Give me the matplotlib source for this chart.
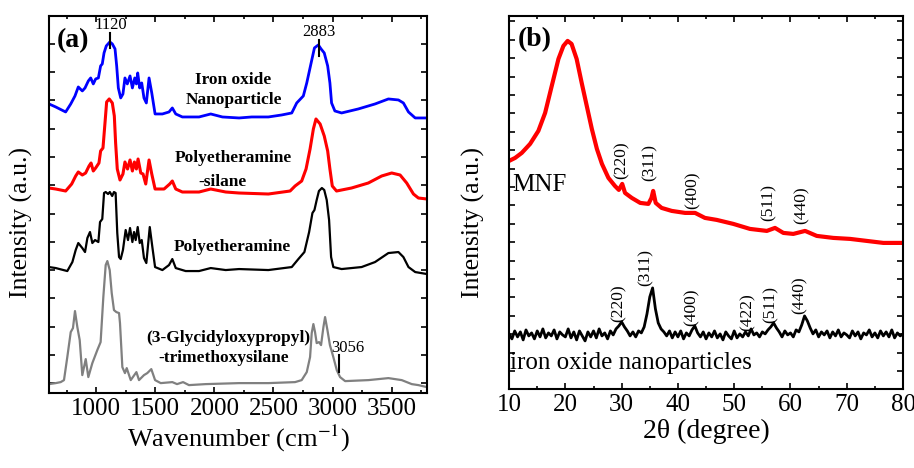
import numpy as np
import matplotlib
matplotlib.use('Agg')
import matplotlib.pyplot as plt
from matplotlib.ticker import MultipleLocator

plt.rcParams['font.family'] = ['Liberation Serif', 'DejaVu Serif']
plt.rcParams['mathtext.fontset'] = 'stix'

# ---- (a) FTIR, wavenumber (cm-1) vs intensity (a.u., stacked) ----
wn_iron = [600, 657, 741, 784, 820, 848, 882, 905, 933, 953, 975, 995, 1018, 1037, 1051, 1066, 1085,
           1115, 1136, 1159, 1173, 1187, 1207, 1226, 1243, 1263, 1286, 1306, 1326, 1340, 1351, 1368,
           1385, 1404, 1424, 1447, 1470, 1498, 1560, 1616, 1644, 1673, 1729, 1870, 1969, 2068, 2209,
           2316, 2457, 2570, 2655, 2697, 2753, 2782, 2819, 2847, 2880, 2903, 2930, 2959, 2978, 2992,
           3020, 3077, 3218, 3360, 3473, 3558, 3600, 3643, 3700, 3800]
int_iron = [289, 286, 281, 289, 297, 306, 302, 305, 312, 315, 309, 314, 315, 327, 329, 340, 347,
            351, 349, 344, 327, 305, 295, 299, 315, 309, 317, 305, 315, 309, 320, 305,
            310, 295, 290, 315, 300, 279, 279, 281, 285, 279, 276, 276, 279, 276, 275,
            276, 276, 278, 280, 290, 297, 310, 330, 345, 348, 344, 340, 327, 310, 290,
            282, 280, 284, 289, 294, 293, 290, 281, 275, 275]

wn_pes = [600, 657, 741, 792, 826, 848, 882, 910, 939, 956, 975, 995, 1023, 1037, 1057, 1074, 1088,
          1110, 1136, 1153, 1164, 1178, 1201, 1226, 1243, 1265, 1286, 1306, 1323, 1340, 1354, 1377,
          1396, 1419, 1447, 1470, 1498, 1574, 1622, 1644, 1673, 1729, 1870, 1969, 2096, 2209,
          2457, 2641, 2683, 2739, 2776, 2810, 2838, 2860, 2895, 2930, 2959, 2978, 2998, 3034,
          3161, 3303, 3416, 3501, 3572, 3628, 3685, 3727, 3800]
int_pes = [205, 204, 202, 209, 217, 221, 218, 220, 227, 230, 222, 225, 230, 242, 245, 270, 291,
           294, 290, 277, 250, 224, 213, 219, 231, 224, 233, 222, 231, 224, 234, 220,
           219, 209, 233, 219, 204, 204, 209, 212, 204, 201, 201, 204, 201, 200,
           199, 202, 207, 212, 224, 244, 264, 274, 269, 257, 242, 224, 207, 202,
           205, 210, 217, 220, 218, 210, 199, 195, 194]

wn_pea = [600, 657, 755, 798, 826, 848, 882, 905, 925, 947, 967, 990, 1018, 1032, 1051, 1066, 1080,
          1100, 1115, 1135, 1150, 1164, 1178, 1193, 1207, 1226, 1249, 1269, 1286, 1306, 1320, 1334,
          1351, 1368, 1385, 1404, 1424, 1453, 1475, 1498, 1560, 1616, 1644, 1673, 1757, 1870,
          1969, 2096, 2209, 2457, 2655, 2711, 2762, 2802, 2830, 2847, 2866, 2885, 2910, 2930,
          2951, 2971, 2988, 3007, 3077, 3246, 3360, 3473, 3558, 3600, 3643, 3700, 3800]
int_pea = [126, 125, 122, 131, 143, 150, 145, 141, 155, 161, 150, 153, 151, 171, 174, 200, 201,
           199, 201, 197, 201, 200, 160, 136, 134, 143, 163, 153, 165, 151, 161, 153,
           166, 150, 153, 135, 130, 166, 146, 126, 123, 128, 134, 125, 122, 122,
           125, 123, 124, 123, 126, 134, 141, 161, 180, 183, 193, 202, 205, 203,
           193, 173, 136, 126, 124, 126, 131, 140, 141, 136, 126, 121, 119]

wn_gptms = [600, 657, 699, 727, 755, 784, 803, 820, 840, 860, 882, 911, 933, 967, 1009, 1037, 1060,
            1080, 1094, 1114, 1131, 1150, 1170, 1193, 1201, 1221, 1243, 1258, 1292, 1340, 1362, 1404,
            1432, 1466, 1498, 1546, 1644, 1684, 1735, 1785, 1926, 2209, 2457, 2683, 2739, 2782,
            2810, 2824, 2838, 2852, 2866, 2886, 2903, 2923, 2937, 2957, 2978, 3007, 3036, 3064,
            3107, 3304, 3473, 3586, 3671, 3727, 3800]
int_gptms = [9, 10, 11, 13, 36, 61, 65, 82, 66, 53, 18, 34, 16, 30, 43, 51, 96,
             128, 132, 123, 100, 83, 81, 80, 70, 26, 20, 25, 13, 21, 13, 18,
             20, 24, 13, 10, 11, 9, 11, 8, 9, 10, 10, 11, 13, 21,
             36, 60, 69, 61, 50, 51, 48, 66, 76, 63, 48, 36, 23, 16,
             12, 13, 15, 13, 9, 8, 6]

# ---- (b) XRD, 2theta (degree) vs intensity ----
tt_mnf = [10, 11.07, 12.25, 13.73, 15.2, 16.4, 17.58, 18.77, 19.65, 20.4, 21.1, 22.0, 22.9, 23.8,
          24.7, 25.6, 26.5, 27.65, 28.8, 29.5, 30.1, 30.6, 31.8, 33.3, 34.75, 35.3, 35.6, 36.05,
          37.1, 38.9, 41.27, 43.05, 44.8, 46.9, 49.85, 52.8, 55.8, 57.25, 58.73, 60.5, 62.6,
          64.67, 67.6, 70.6, 73.55, 76.5, 80]
int_mnf = [228, 231, 236, 245, 258, 276, 303, 330, 343, 348, 345, 330, 306, 283,
           260, 240, 225, 211, 203, 199, 205, 196, 191, 186, 185, 191, 198, 186,
           181, 178, 176, 176, 171, 169, 165, 160, 158, 161, 156, 155, 158,
           153, 151, 150, 148, 146, 146]

tt_iron = np.arange(10, 80.01, 0.5)
int_iron_xrd = [55, 50, 58, 52, 57, 49, 59, 53, 56, 50,
                58, 52, 60, 51, 56, 53, 59, 50, 57, 54,
                52, 60, 51, 57, 49, 58, 53, 48, 57, 52,
                58, 51, 60, 53, 56, 50, 58, 54, 60, 63,
                67, 62, 58, 53, 57, 52, 58, 56, 62, 75,
                92, 101, 80, 66, 60, 57, 53, 58, 51, 57,
                52, 58, 50, 56, 53, 59, 63, 56, 52, 57,
                50, 56, 52, 58, 51, 55, 49, 57, 53, 50,
                58, 51, 55, 52, 57, 53, 60, 54, 56, 52,
                57, 55, 59, 62, 66, 61, 57, 52, 58, 54,
                56, 52, 59, 57, 64, 73, 68, 61, 55, 59,
                52, 57, 54, 58, 51, 57, 53, 59, 52, 56,
                54, 51, 58, 53, 57, 50, 56, 54, 59, 52,
                56, 51, 58, 53, 57, 52, 59, 51, 56, 53,
                55]

hkl_mnf = ['(220)', '(311)', '(400)', '(511)', '(440)']
hkl_mnf_pos = [(30.0, 229), (34.9, 226), (42.6, 199), (56.1, 186), (62.0, 184)]
hkl_iron = ['(220)', '(311)', '(400)', '(422)', '(511)', '(440)']
hkl_iron_pos = [(29.4, 86), (34.3, 121), (42.5, 82), (52.3, 77), (56.4, 84), (61.7, 94)]

fig = plt.figure(figsize=(9.14, 4.68), dpi=100)
ax1 = fig.add_axes([0.0536, 0.160, 0.4136, 0.806])
ax2 = fig.add_axes([0.557, 0.169, 0.431, 0.797])

ax1.plot(wn_iron, int_iron, color='#0000ff', lw=2)
ax1.plot(wn_pes, int_pes, color='#ff0000', lw=2.2)
ax1.plot(wn_pea, int_pea, color='black', lw=1.6)
ax1.plot(wn_gptms, int_gptms, color='#808080', lw=1.6)

ax1.set_xlim(600, 3800)
ax1.set_ylim(0, 377)
ax1.xaxis.set_major_locator(MultipleLocator(500))
ax1.xaxis.set_minor_locator(MultipleLocator(250))
ax1.set_xticks([1000, 1500, 2000, 2500, 3000, 3500])
ax1.set_yticks(np.arange(9.7, 377, 28.3))
ax1.set_yticklabels([])
ax1.set_xlabel('Wavenumber (cm$^{-1}$)', fontsize=19, labelpad=2)
ax1.set_ylabel('Intensity (a.u.)', fontsize=18.5)
ax1.yaxis.set_label_coords(-0.042, 0.451)

bold = dict(fontsize=12.5, fontweight='bold', ha='center', va='center')
ax1.text(803, 352, '(a)', fontsize=20, fontweight='bold', ha='center', va='center')
ax1.text(2158, 313, 'Iron oxide', **bold)
ax1.text(2166, 293, 'Nanoparticle', **bold)
ax1.text(2162, 235, 'Polyetheramine', **bold)
ax1.text(2065, 211, '-silane', **bold)
ax1.text(2149, 146, 'Polyetheramine', **bold)
ax1.text(2115, 55, '(3-Glycidyloxypropyl)', **bold)
ax1.text(2082, 35, '-trimethoxysilane', **bold)

ax1.text(1120, 368, '1120', fontsize=12, ha='center', va='center')
ax1.plot([1120, 1120], [345, 360], color='black', lw=1.5)
ax1.text(2883, 361, '2883', fontsize=12, ha='center', va='center')
ax1.plot([2883, 2883], [337, 353], color='black', lw=1.5)
ax1.text(3131, 45, '3056', fontsize=12, ha='center', va='center')
ax1.plot([3056, 3056], [21, 38], color='black', lw=1.5)

ax2.plot(tt_mnf, int_mnf, color='#ff0000', lw=3)
ax2.plot(tt_iron, int_iron_xrd, color='black', lw=2)
ax2.set_xlim(10, 80)
ax2.set_ylim(0, 373)
ax2.xaxis.set_major_locator(MultipleLocator(10))
ax2.xaxis.set_minor_locator(MultipleLocator(5))
ax2.set_yticks(np.arange(18, 373, 18.4))
ax2.set_yticklabels([])
ax2.set_xlabel('2θ (degree)', fontsize=20, labelpad=2)
ax2.set_ylabel('Intensity (a.u.)', fontsize=18.5)
ax2.yaxis.set_label_coords(-0.061, 0.445)

ax2.text(14.6, 349, '(b)', fontsize=20, fontweight='bold', ha='center', va='center')
ax2.text(10.5, 204, 'MNF', fontsize=18, ha='left', va='center')
ax2.text(10.2, 26, 'iron oxide nanoparticles', fontsize=18, ha='left', va='center')
for lab, (x, y) in zip(hkl_mnf, hkl_mnf_pos):
    ax2.text(x, y, lab, fontsize=12.5, rotation=90, ha='center', va='center')
for lab, (x, y) in zip(hkl_iron, hkl_iron_pos):
    ax2.text(x, y, lab, fontsize=12.5, rotation=90, ha='center', va='center')

for ax in (ax1, ax2):
    ax.tick_params(which='both', direction='in', top=True, right=True, labelsize=18, width=1.2)
    ax.tick_params(which='major', length=4.5)
    ax.tick_params(which='minor', length=2.5)
    for s in ax.spines.values():
        s.set_linewidth(1.5)

fig.savefig('out.png', dpi=100)
